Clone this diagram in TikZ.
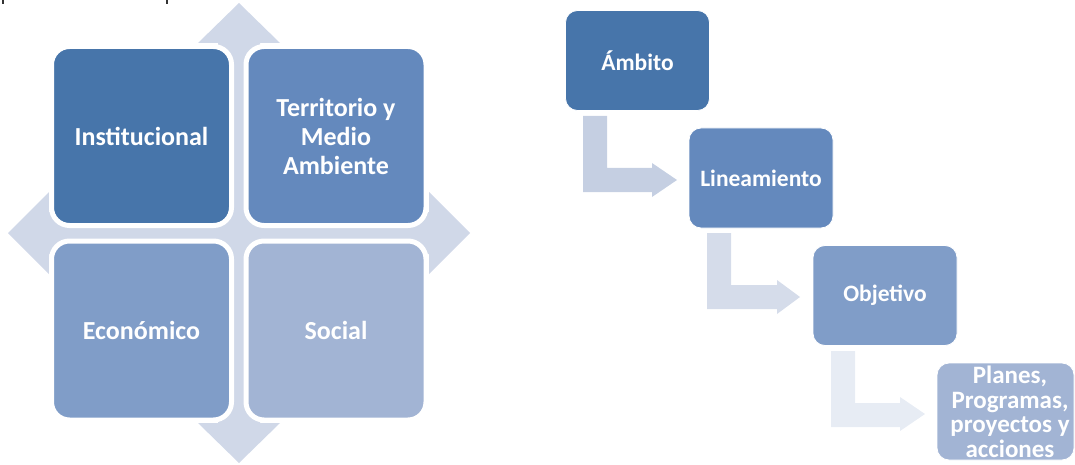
\documentclass[tikz,border=0pt]{standalone}
\usepackage{fontspec}
\setmainfont{Carlito}
\definecolor{cA}{HTML}{4775AA}
\definecolor{cB}{HTML}{6489BD}
\definecolor{cC}{HTML}{809DC8}
\definecolor{cD}{HTML}{A2B4D4}
\definecolor{cross}{HTML}{D0D8E8}
\definecolor{arA}{HTML}{C5CFE2}
\definecolor{arB}{HTML}{D5DCEA}
\definecolor{arC}{HTML}{E7ECF4}
\tikzset{
  quad/.style={draw=white, line width=5pt, rounded corners=18pt, minimum width=180pt, minimum height=179pt,
    inner sep=0pt, align=center, text=white, font=\fontsize{26}{29}\selectfont\bfseries},
  stepbox/.style={draw=white, line width=0.8pt, rounded corners=12pt, minimum width=144pt, minimum height=100pt,
    inner sep=0pt, align=center, text=white, font=\fontsize{23.5}{25}\selectfont\bfseries},
  steptext/.style={inner sep=0pt, align=center, text=white, font=\fontsize{25}{24.5}\selectfont\bfseries},
}
\begin{document}
\begin{tikzpicture}[x=1pt,y=-1pt]
\useasboundingbox (0,0) rectangle (1075,465);
% tiny marks at top left
\fill[black!80] (2.2,0) rectangle (3.8,4.5);
\fill[black!80] (166.2,0) rectangle (167.8,4.5);
% cross arrow background
\fill[cross] (239,3) -- (280,43) -- (260,43) -- (260,212) -- (429,212) -- (429,192) -- (470,233)
  -- (429,274) -- (429,254) -- (260,254) -- (260,423) -- (280,423) -- (239,463) -- (198,423)
  -- (218,423) -- (218,254) -- (49,254) -- (49,274) -- (8,233) -- (49,192) -- (49,212)
  -- (218,212) -- (218,43) -- (198,43) -- cycle;
% matrix boxes
\node[quad, fill=cA] (inst) at (141.5,136) {Institucional};
\node[quad, fill=cB] (terr) at (336,136) {Territorio y\\Medio\\Ambiente};
\node[quad, fill=cC] (econ) at (141.5,330.5) {Económico};
\node[quad, fill=cD] (soc) at (336,330.5) {Social};
% process
\node[stepbox, fill=cA] (amb) at (637.5,60.5) {Ámbito};
\node[stepbox, fill=cB] (lin) at (761,178) {Lineamiento};
\node[stepbox, fill=cC] (obj) at (885,295.5) {Objetivo};
\node[stepbox, fill=cD, minimum width=137pt, minimum height=97pt] (pla) at (1005.5,411.5) {};
\node[steptext] (platext) at (1010,412) {Planes,\\Programas,\\proyectos y\\acciones};
% bent arrows
\fill[arA] (583,116) -- (607,116) -- (607,168) -- (652,168) -- (652,163) -- (677,180) -- (652,197) -- (652,192) -- (583,192) -- cycle;
\fill[arB] (707,233) -- (731,233) -- (731,285) -- (777,285) -- (777,280) -- (800,297) -- (777,314) -- (777,309) -- (707,309) -- cycle;
\fill[arC] (831,351) -- (855,351) -- (855,403) -- (900,403) -- (900,397) -- (925,414) -- (900,431) -- (900,427) -- (831,427) -- cycle;
\end{tikzpicture}
\end{document}
